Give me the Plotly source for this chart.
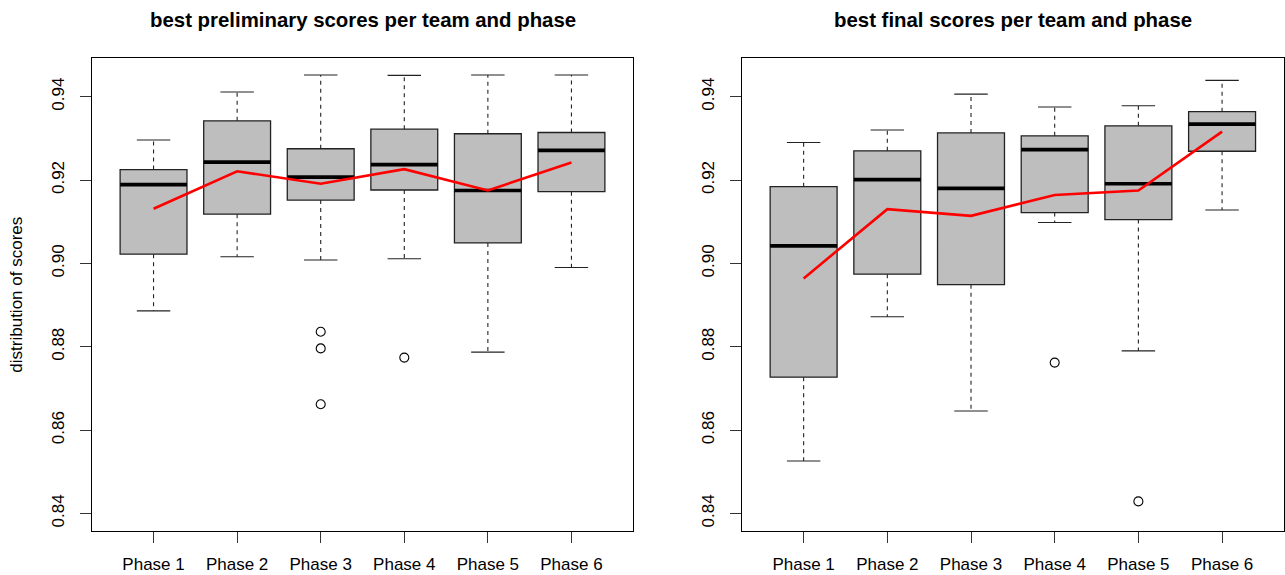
import plotly.graph_objects as go

phases = ["Phase 1", "Phase 2", "Phase 3", "Phase 4", "Phase 5", "Phase 6"]
positions = [1, 2, 3, 4, 5, 6]

# preliminary scores (left panel)
pre_lower = [0.8886, 0.9016, 0.9008, 0.9011, 0.8787, 0.8990]
pre_q1 = [0.9022, 0.9118, 0.9152, 0.9176, 0.9049, 0.9172]
pre_median = [0.9189, 0.9243, 0.9207, 0.9237, 0.9175, 0.9271]
pre_q3 = [0.9225, 0.9342, 0.9275, 0.9322, 0.9311, 0.9314]
pre_upper = [0.9296, 0.9411, 0.9452, 0.9451, 0.9452, 0.9452]
pre_mean = [0.9131, 0.9221, 0.9191, 0.9226, 0.9175, 0.9242]
pre_outliers = [[], [], [0.8836, 0.8796, 0.8662], [0.8774], [], []]

# final scores (right panel)
fin_lower = [0.8526, 0.8872, 0.8646, 0.9098, 0.8790, 0.9128]
fin_q1 = [0.8727, 0.8974, 0.8949, 0.9122, 0.9105, 0.9269]
fin_median = [0.9042, 0.9201, 0.9180, 0.9273, 0.9191, 0.9334]
fin_q3 = [0.9184, 0.9270, 0.9313, 0.9306, 0.9330, 0.9364]
fin_upper = [0.9290, 0.9320, 0.9406, 0.9375, 0.9378, 0.9439]
fin_mean = [0.8964, 0.9130, 0.9114, 0.9164, 0.9175, 0.9316]
fin_outliers = [[], [], [], [0.8762], [0.8429], []]

y_ticks = [0.84, 0.86, 0.88, 0.90, 0.92, 0.94]
titles = ["best preliminary scores per team and phase", "best final scores per team and phase"]
y_title = "distribution of scores"

FONT = "Liberation Sans, Arial, Helvetica, sans-serif"
BOXW = 0.8
CAPW = 0.4

fig = go.Figure()


def segs(xs0, xs1, ys0, ys1):
    X, Y = [], []
    for a, b, c, d in zip(xs0, xs1, ys0, ys1):
        X += [a, b, None]
        Y += [c, d, None]
    return X, Y


def add_panel(xa, ya, lower, q1, med, q3, upper, mean, outl):
    fig.add_trace(go.Bar(
        x=positions, y=[b - a for a, b in zip(q1, q3)], base=q1, width=BOXW,
        marker=dict(color="#BEBEBE", line=dict(color="#222222", width=1.3)),
        xaxis=xa, yaxis=ya, showlegend=False, hoverinfo="skip"))
    # dashed whiskers
    X, Y = segs(positions + positions, positions + positions, q3 + q1, upper + lower)
    fig.add_trace(go.Scatter(x=X, y=Y, mode="lines",
                             line=dict(color="#222222", width=1.1, dash="4px,4px"),
                             xaxis=xa, yaxis=ya, showlegend=False, hoverinfo="skip"))
    # caps
    X, Y = segs([p - CAPW / 2 for p in positions] * 2, [p + CAPW / 2 for p in positions] * 2,
                upper + lower, upper + lower)
    fig.add_trace(go.Scatter(x=X, y=Y, mode="lines",
                             line=dict(color="#222222", width=1.1),
                             xaxis=xa, yaxis=ya, showlegend=False, hoverinfo="skip"))
    # medians
    X, Y = segs([p - BOXW / 2 for p in positions], [p + BOXW / 2 for p in positions], med, med)
    fig.add_trace(go.Scatter(x=X, y=Y, mode="lines",
                             line=dict(color="black", width=3.6),
                             xaxis=xa, yaxis=ya, showlegend=False, hoverinfo="skip"))
    # outliers
    ox, oy = [], []
    for p, vals in zip(positions, outl):
        for v in vals:
            ox.append(p)
            oy.append(v)
    fig.add_trace(go.Scatter(x=ox, y=oy, mode="markers",
                             marker=dict(symbol="circle-open", size=9, color="black",
                                         line=dict(width=1.1)),
                             xaxis=xa, yaxis=ya, showlegend=False, hoverinfo="skip"))
    # mean line
    fig.add_trace(go.Scatter(x=positions, y=mean, mode="lines",
                             line=dict(color="#FF0000", width=2.6),
                             xaxis=xa, yaxis=ya, showlegend=False, hoverinfo="skip"))


add_panel("x", "y", pre_lower, pre_q1, pre_median, pre_q3, pre_upper, pre_mean, pre_outliers)
add_panel("x2", "y2", fin_lower, fin_q1, fin_median, fin_q3, fin_upper, fin_mean, fin_outliers)

W, H = 1285, 575
dom_left = [91.7 / W, 633.3 / W]
dom_right = [741.7 / W, 1284.0 / W]
ydom = [1 - 531.0 / H, 1 - 58.3 / H]

xcommon = dict(range=[0.26, 6.74], tickmode="array", tickvals=positions, ticktext=phases,
               ticks="outside", ticklen=11, tickwidth=1, tickcolor="#333333",
               showline=True, linecolor="black", linewidth=1, mirror=True,
               showgrid=False, zeroline=False, fixedrange=True, automargin=False,
               tickfont=dict(family=FONT, size=17, color="black"), ticklabelstandoff=7)
ycommon = dict(range=[0.8358, 0.9492], tickmode="array", tickvals=y_ticks,
               ticktext=["%.2f" % v for v in y_ticks], tickangle=-90,
               ticks="outside", ticklen=11, tickwidth=1, tickcolor="#333333",
               showline=True, linecolor="black", linewidth=1, mirror=True,
               showgrid=False, zeroline=False, fixedrange=True, automargin=False,
               tickfont=dict(family=FONT, size=17, color="black"), ticklabelstandoff=9)

fig.update_layout(
    width=W, height=H,
    margin=dict(l=0, r=0, t=0, b=0, autoexpand=False),
    paper_bgcolor="white", plot_bgcolor="white",
    xaxis=dict(domain=dom_left, anchor="y", **xcommon),
    yaxis=dict(domain=ydom, anchor="x", **ycommon),
    xaxis2=dict(domain=dom_right, anchor="y2", **xcommon),
    yaxis2=dict(domain=ydom, anchor="x2", **ycommon),
    barmode="overlay",
    showlegend=False,
    annotations=[
        dict(text="<b>%s</b>" % titles[0], x=(dom_left[0] + dom_left[1]) / 2, y=1 - 20.0 / H,
             xref="paper", yref="paper", xanchor="center", yanchor="middle", showarrow=False,
             font=dict(family=FONT, size=20.4, color="black")),
        dict(text="<b>%s</b>" % titles[1], x=(dom_right[0] + dom_right[1]) / 2, y=1 - 20.0 / H,
             xref="paper", yref="paper", xanchor="center", yanchor="middle", showarrow=False,
             font=dict(family=FONT, size=20.4, color="black")),
        dict(text=y_title, x=17.0 / W, y=(ydom[0] + ydom[1]) / 2, textangle=-90,
             xref="paper", yref="paper", xanchor="center", yanchor="middle", showarrow=False,
             font=dict(family=FONT, size=17, color="black")),
    ],
)

fig.write_html("out.html", config={"displayModeBar": False, "staticPlot": True},
               post_script="document.body.style.margin='0px';document.body.style.overflow='hidden';")
